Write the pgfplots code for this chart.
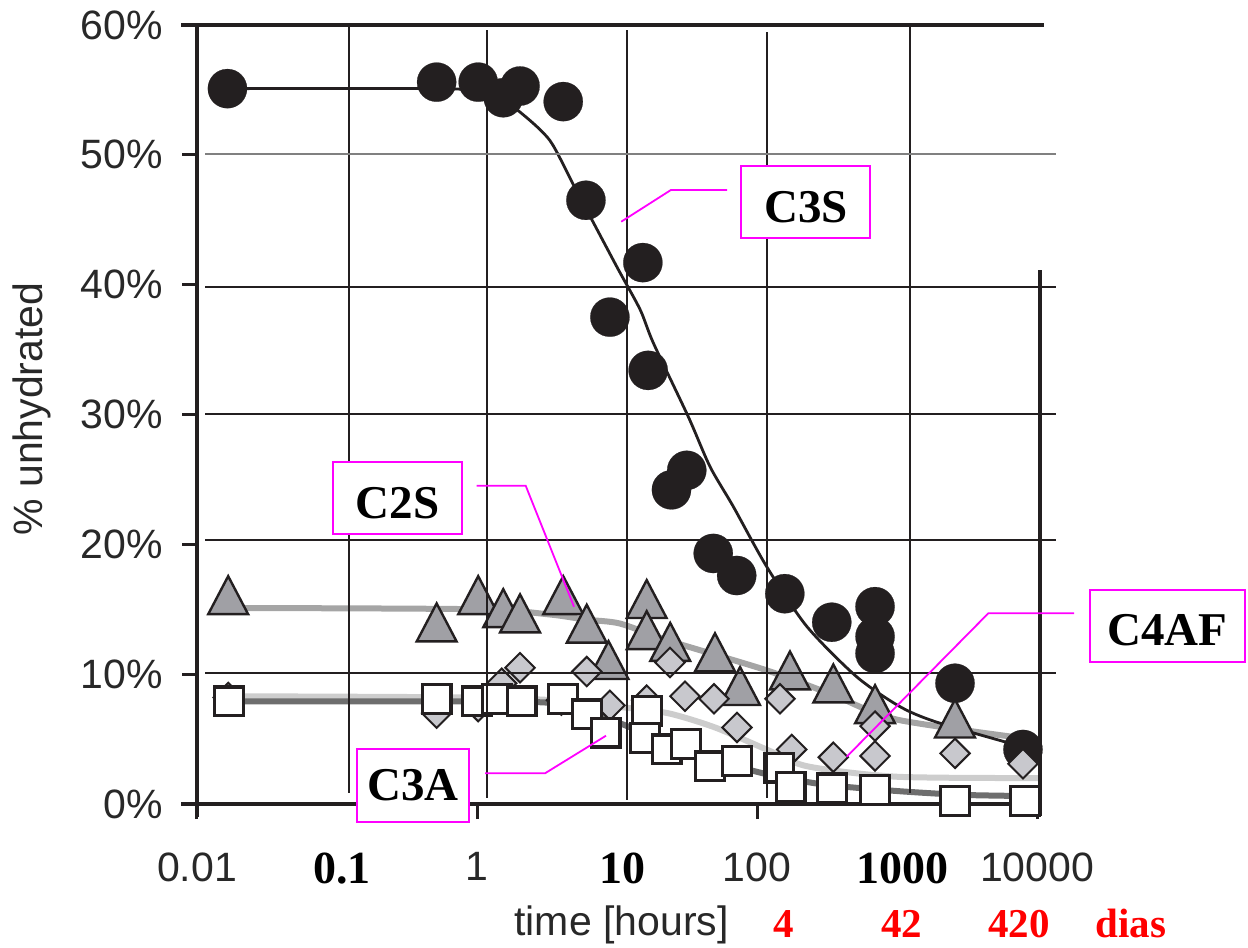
\documentclass[border=0pt]{standalone}
\usepackage{pgfplots}
\pgfplotsset{compat=1.18}
\usepackage{fontspec}
\setmainfont{Liberation Sans}
\newfontfamily\tnr{Liberation Serif}
\definecolor{ink}{RGB}{35,31,32}
\definecolor{magen}{RGB}{255,0,255}
\definecolor{trifill}{RGB}{160,160,165}
\definecolor{diafill}{RGB}{200,200,205}
\definecolor{c2sline}{RGB}{165,165,165}
\definecolor{c4afline}{RGB}{205,205,205}
\definecolor{c3aline}{RGB}{110,110,110}
\definecolor{gridgray}{RGB}{128,128,128}
\definecolor{labgray}{RGB}{40,40,40}
\definecolor{redlab}{RGB}{255,0,0}

\begin{document}
\begin{tikzpicture}
\path[use as bounding box] (0pt,0pt) rectangle (624pt,-474pt);
\begin{axis}[
  at={(98.5pt,-402pt)}, anchor=south west,
  scale only axis, width=421.5pt, height=389.5pt,
  xmode=log, log basis x=10,
  xmin=0.01, xmax=10505, ymin=0, ymax=60,
  axis x line*=bottom, axis y line*=left,
  axis line style={line width=1.6pt, color=ink, -},
  tick style={line width=1.5pt, color=ink},
  tick align=outside, major tick length=7.5pt,
  xtick={0.01,1,100,10000}, xticklabels={0.01,1,100,10000},
  xminorticks=false, yminorticks=false,
  ytick={0,10,20,30,40,50,60},
  yticklabels={0\%,10\%,20\%,30\%,40\%,50\%,60\%},
  tick label style={font=\fontsize{20.5}{24}\selectfont, text=labgray, inner sep=0pt},
  yticklabel style={anchor=east, xshift=-9.5pt},
  xticklabel style={anchor=north, yshift=-16.5pt},
  extra x ticks={0.1,10,1000},
  extra x tick labels={0.1,10,1000},
  extra x tick style={tick style={draw=none}, xticklabel style={font=\tnr\bfseries\fontsize{23}{26}\selectfont, text=black, xshift=2.5pt}},
  clip=false,
]
% ---- fitted curves ----
\addplot[no marks, smooth, tension=0.45, c4afline, line width=3pt] coordinates {
(0.0167,8.3) (1.0,8.2) (5,7.9) (10,7.5) (23,7.0) (50,5.9) (117,4.2) (230,2.9) (1000,2.1) (10500,2.0)};
\addplot[no marks, smooth, tension=0.45, c2sline, line width=3pt] coordinates {
(0.0167,15.1) (1.0,15.0) (3.3,14.6) (6.0,14.2) (10.5,13.9) (23,12.6) (117,10.3) (350,8.4) (1000,6.5) (10500,4.9)};
\addplot[no marks, smooth, tension=0.45, c3aline, line width=3pt] coordinates {
(0.0167,7.9) (1.0,7.9) (4,7.7) (10,6.3) (20,5.0) (50,3.4) (117,2.3) (300,1.5) (1000,1.0) (3000,0.7) (10500,0.6)};
\addplot[no marks, smooth, tension=0.45, ink, line width=1.4pt] coordinates {
(0.0165,55.1) (0.52,55.1) (1.0,54.9) (1.5,54.2) (2.08,53.2) (3.32,51.1) (4.99,47.5) (9.95,41.4) (14.6,38.1) (18.2,35.5) (32.4,29.8) (46.1,26.0) (67.8,22.9) (117,18.3) (226,13.7) (515,9.8) (1050,7.5) (1930,6.3) (7943,4.4)};
% ---- C3S ----
\addplot[only marks, mark=*, mark size=9.8pt, mark options={fill=ink, draw=ink, line width=0.1pt}] coordinates {
(0.0165,55.1) (0.515,55.6) (1.02,55.6) (1.54,54.4) (2.03,55.3) (4.13,54.1) (6.0,46.5) (8.9,37.5) (15.3,41.7) (16.7,33.4) (24.5,24.2) (31.5,25.7) (48.7,19.3) (71.6,17.6) (158,16.2) (342,14.0) (697,15.2) (697,12.9) (697,11.6) (2596,9.3) (7943,4.2)};
% ---- C2S ----
\addplot[only marks, mark=triangle*, mark size=11.5pt, mark options={yscale=1.1, fill=trifill, draw=ink, line width=1.2pt}] coordinates {
(0.0167,15.6) (0.515,13.5) (1.02,15.6) (1.54,14.6) (2.03,14.2) (4.13,15.6) (6.08,13.4) (8.7,10.6) (16.3,15.3) (16.3,12.9) (24,12.0) (50.1,11.2) (75.7,8.6) (172,9.8) (351,8.8) (697,7.2) (2596,6.1)};
% ---- C4AF ----
\addplot[only marks, mark=square*, mark size=5.2pt, mark options={rotate=45, fill=diafill, draw=ink, line width=1pt}] coordinates {
(0.0167,8.2) (0.515,7.0) (1.02,7.5) (1.5,9.3) (2.03,10.5) (4.0,8.0) (6.08,10.2) (8.9,7.6) (16.3,8.0) (23.9,10.9) (30.6,8.3) (49.3,8.1) (72,5.9) (146,8.1) (177,4.2) (351,3.6) (697,6.0) (697,3.7) (2596,3.9) (7943,3.1)};
% ---- C3A ----
\addplot[only marks, mark=square*, mark size=7.2pt, mark options={fill=white, draw=ink, line width=1.6pt}] coordinates {
(0.0169,7.9) (0.515,8.1) (1.0,7.9) (1.38,8.1) (2.08,7.9) (4.1,8.1) (6.08,6.9) (8.3,5.5) (16.4,7.2) (15.8,5.1) (22.6,4.2) (31,4.6) (46,2.9) (72,3.3) (144,2.8) (174,1.3) (345,1.2) (697,1.1) (2596,0.25) (8204,0.25)};
\end{axis}
\begin{scope}[x=0.5pt, y=-0.5pt]
% overlaid grid
\draw[ink, line width=1pt] (349.3,25) -- (349.3,793);
\draw[ink, line width=1pt] (487.3,30) -- (487.3,798);
\draw[ink, line width=1pt] (627,30) -- (627,800);
\draw[ink, line width=1pt] (767,32) -- (767,798);
\draw[ink, line width=1pt] (910,26) -- (910,793);
\draw[gridgray, line width=1pt] (205,153.7) -- (1056,153.7);
\draw[ink, line width=1pt] (205,287.3) -- (1056,287.3);
\draw[ink, line width=1pt] (205,414) -- (1056,414);
\draw[ink, line width=1pt] (205,540) -- (1056,540);
\draw[ink, line width=1pt] (205,673.3) -- (1056,673.3);
% frame pieces
\draw[ink, line width=1.6pt] (181,25) -- (1043.6,25);
\draw[ink, line width=1.6pt] (1040,270) -- (1040,816);
\draw[ink, line width=1.6pt] (197.5,800) -- (197.5,816.7);
\draw[ink, line width=1.6pt] (181,804) -- (197.5,804);
% labels boxes
\draw[magen, line width=0.9pt, fill=white] (741,165.7) rectangle (870,237.7);
\draw[magen, line width=0.9pt, fill=white] (332.7,461.7) rectangle (461.7,534);
\draw[magen, line width=0.9pt, fill=white] (356.7,749.3) rectangle (469.3,821.7);
\draw[magen, line width=0.9pt, fill=white] (1090,590) rectangle (1245,662);
\begin{scope}[every node/.style={anchor=base, inner sep=0pt, font=\tnr\bfseries\fontsize{23.5}{26}\selectfont}]
\node at (806,222) {C3S};
\node at (397.5,518) {C2S};
\node at (413,800) {C3A};
\node at (1167.5,645) {C4AF};
\end{scope}
% leaders
\draw[magen, line width=0.9pt] (621.2,221.7) -- (670.9,190) -- (727,190);
\draw[magen, line width=0.9pt] (476.7,485.7) -- (525.7,485.7) -- (574,606.7);
\draw[magen, line width=0.9pt] (485,773.3) -- (545,773.3) -- (606,735.7);
\draw[magen, line width=0.9pt] (846.7,756.7) -- (988.3,613.3) -- (1074,613.3);
% axis titles
\node[anchor=base, inner sep=0pt, text=labgray, font=\fontsize{20.5}{24}\selectfont] at (621.5,935) {time [hours]};
\node[anchor=base, rotate=90, inner sep=0pt, text=labgray, font=\fontsize{20.5}{24}\selectfont] at (42.7,409) {\% unhydrated};
\begin{scope}[every node/.style={anchor=base, inner sep=0pt, text=redlab, font=\tnr\bfseries\fontsize{20.5}{24}\selectfont}]
\node at (783.6,937) {4};
\node at (901.9,937) {42};
\node at (1019,937) {420};
\node at (1131,937) {dias};
\end{scope}
\end{scope}
\end{tikzpicture}
\end{document}
